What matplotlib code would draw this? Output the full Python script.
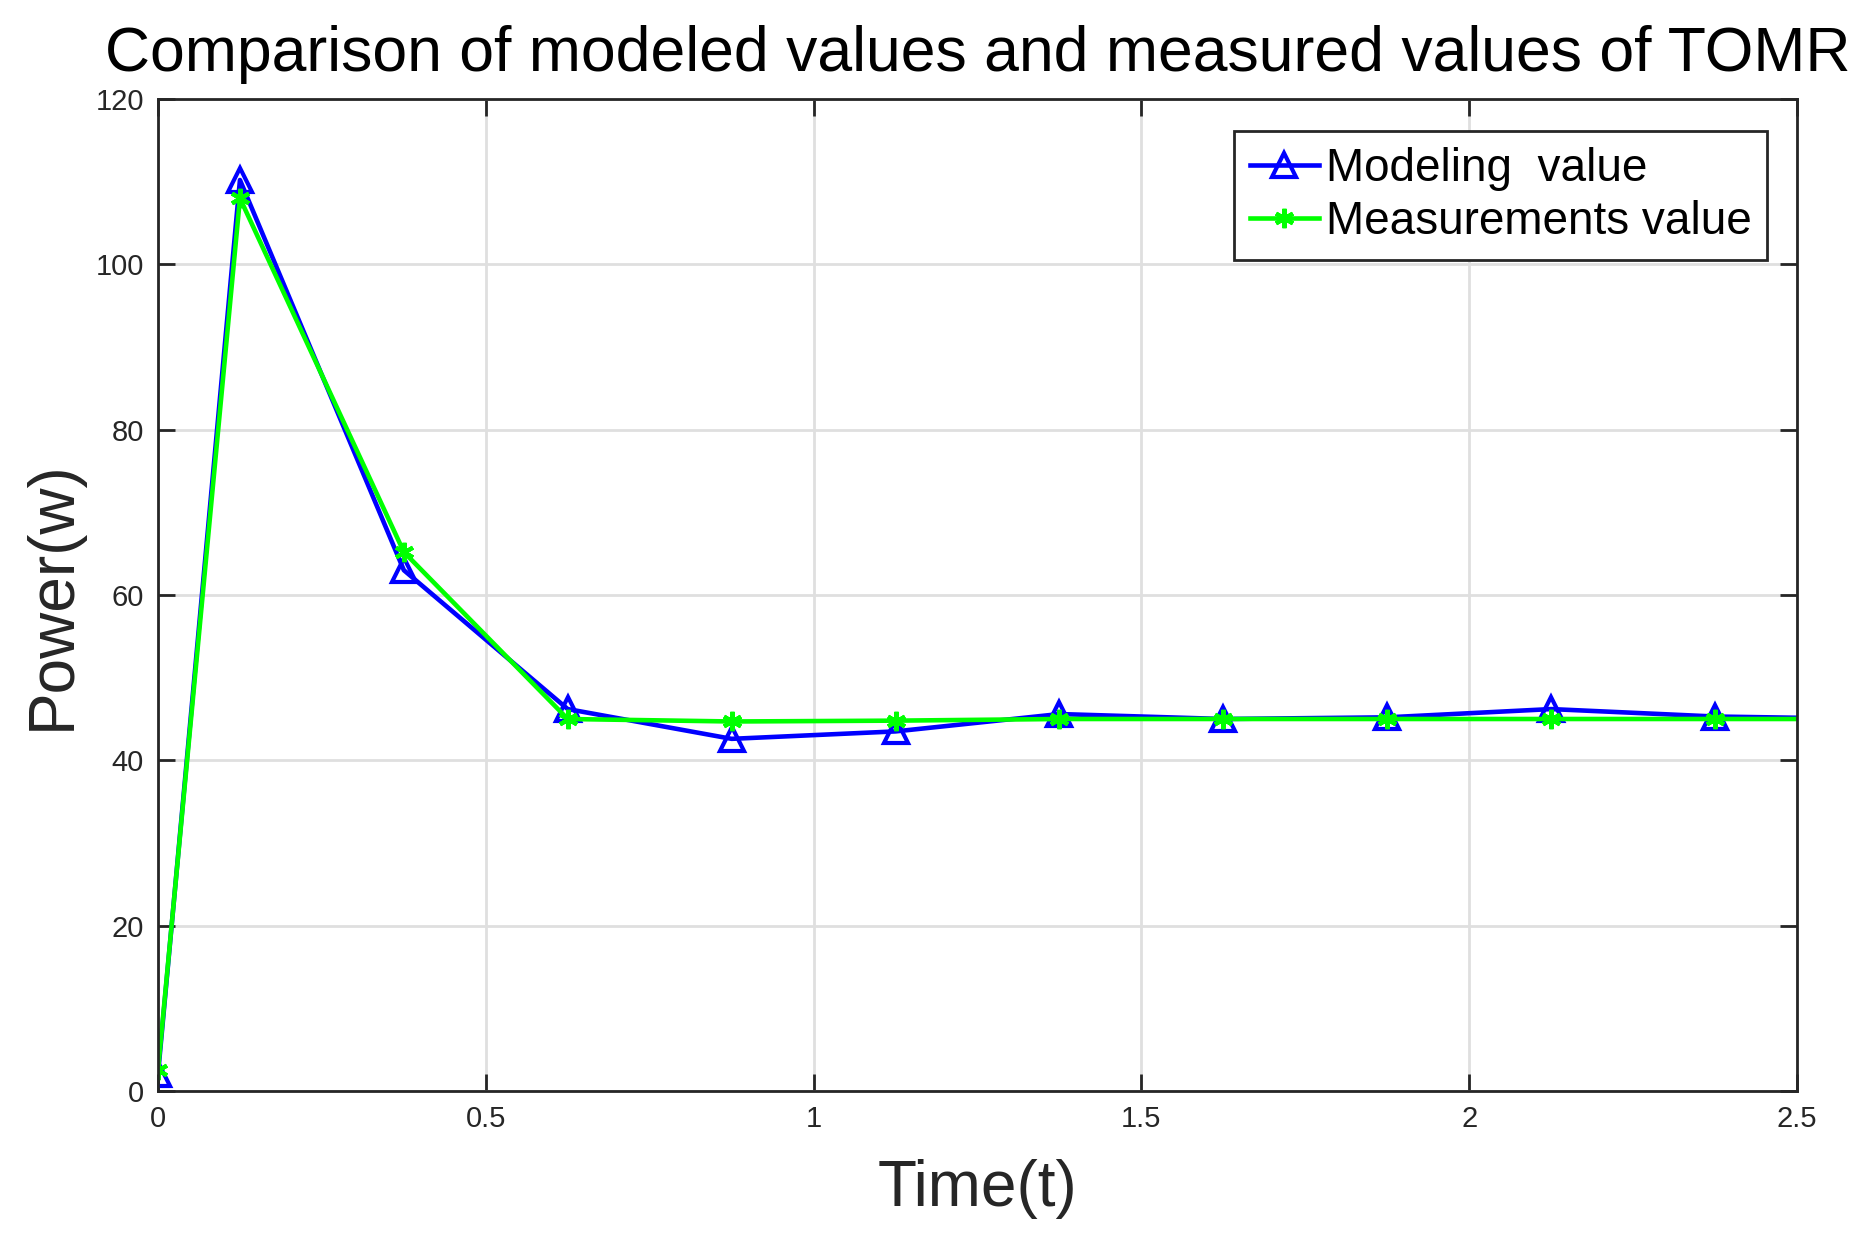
import numpy as np
import matplotlib
matplotlib.use("Agg")
import matplotlib.pyplot as plt

plt.rcParams['font.family'] = ['Liberation Sans', 'DejaVu Sans']

# time points (last one lies past the axis limit and gets clipped)
time_t = [0, 0.125, 0.375, 0.625, 0.875, 1.125, 1.375, 1.625, 1.875, 2.125, 2.375, 2.625]
modeling = [2.0, 110.2, 63.0, 46.2, 42.6, 43.5, 45.6, 45.0, 45.2, 46.2, 45.3, 45.0]
measured = [2.5, 108.0, 65.2, 45.0, 44.7, 44.8, 45.0, 45.0, 45.0, 45.0, 45.0, 45.0]

x_ticks = [0, 0.5, 1, 1.5, 2, 2.5]
x_tick_labels = ["0", "0.5", "1", "1.5", "2", "2.5"]
y_ticks = [0, 20, 40, 60, 80, 100, 120]

fig = plt.figure(figsize=(18.66, 12.37), dpi=100)
ax = fig.add_axes([158/1866, 1 - 1091/1237, (1797-158)/1866, (1091-99)/1237])

ax.plot(time_t, modeling, color='#0000ff', lw=3.3, marker='^', ms=17,
        mfc='none', mec='#0000ff', mew=3, label='Modeling  value')
ax.plot(time_t, measured, color='#00ff00', lw=3.3, marker=(6, 2, 0), ms=14,
        mec='#00ff00', mew=3, label='Measurements value')

ax.set_xlim(0, 2.5)
ax.set_ylim(0, 120)
ax.set_xticks(x_ticks)
ax.set_xticklabels(x_tick_labels)
ax.set_yticks(y_ticks)
ax.grid(True, color='#dfdfdf', lw=2)
ax.set_axisbelow(True)

ax.tick_params(direction='in', length=12, width=2, top=True, right=True,
               labelsize=21, colors='#262626', pad=10)
for s in ax.spines.values():
    s.set_linewidth(2)
    s.set_color('#262626')

ax.set_xlabel('Time(t)', fontsize=46, color='#262626', labelpad=19)
ax.set_ylabel('Power(w)', fontsize=46, color='#262626', labelpad=9)
ax.set_title('Comparison of modeled values and measured values of TOMR',
             fontsize=45, pad=20, x=0.5)

leg = ax.legend(loc='upper right', bbox_to_anchor=(0.982, 0.968), fontsize=33,
                frameon=True, fancybox=False, handlelength=1.5, handletextpad=0.15,
                borderpad=0.35, labelspacing=0.2, borderaxespad=0)
leg.get_frame().set_edgecolor('#262626')
leg.get_frame().set_linewidth(2)
leg.get_frame().set_alpha(1)

fig.savefig('out.png', dpi=100)
